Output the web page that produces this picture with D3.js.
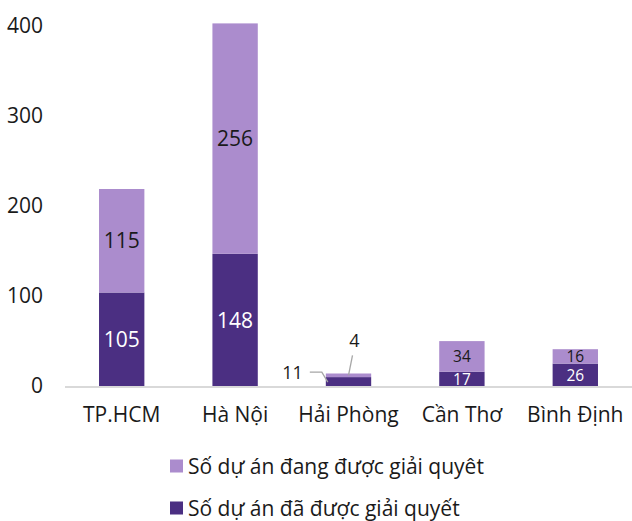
<!DOCTYPE html>
<html>
<head>
<meta charset="utf-8">
<script src="https://cdn.jsdelivr.net/npm/d3@7"></script>
<style>
  html, body { margin: 0; padding: 0; background: #fff; }
  svg text { font-family: "Open Sans", "Noto Sans", sans-serif; }
</style>
</head>
<body>
<svg id="chart" width="632" height="521"></svg>
<script>
// Provinces / cities
const categories = ["TP.HCM", "Hà Nội", "Hải Phòng", "Cần Thơ", "Bình Định"];
// Projects already resolved (bottom segment)
const resolved = [105, 148, 11, 17, 26];
// Projects being resolved (top segment)
const pending = [115, 256, 4, 34, 16];
const yTicks = [0, 100, 200, 300, 400];
const seriesNames = ["Số dự án đang được giải quyêt", "Số dự án đã được giải quyết"];

const colorDark = "#4b2f82";
const colorLight = "#ab8ccd";
const font = "'Open Sans', 'Noto Sans', sans-serif";
const fs = 21;          // axis, legend and large value labels
const fsSmall = 15.5;   // labels inside short bars
const fsCallout = 18;   // Hải Phòng callouts

const svg = d3.select("#chart");
const margin = { left: 65, right: 0 };
const width = 632;

const x = d3.scaleBand().domain(categories)
  .range([margin.left, width - margin.right])
  .paddingInner(0.6).paddingOuter(0.3);
const y = d3.scaleLinear().domain([0, 400]).range([387, 27]);

// y axis labels (no line)
const yAxis = svg.append("g").attr("transform", `translate(${margin.left},0)`)
  .call(d3.axisLeft(y).tickValues(yTicks).tickSize(0).tickPadding(22));
yAxis.select(".domain").remove();
yAxis.selectAll("text").attr("font-size", fs).attr("fill", "#1a1a1a")
  .attr("dy", "0.28em").style("font-family", font);

const rows = categories.map((c, i) => ({ c, r: resolved[i], p: pending[i] }));

// stacked bars
const g = svg.append("g");
g.selectAll("rect.dark").data(rows).join("rect")
  .attr("x", d => x(d.c)).attr("width", x.bandwidth())
  .attr("y", d => y(d.r)).attr("height", d => y(0) - y(d.r))
  .attr("fill", colorDark);
g.selectAll("rect.light").data(rows).join("rect")
  .attr("x", d => x(d.c)).attr("width", x.bandwidth())
  .attr("y", d => y(d.r + d.p)).attr("height", d => y(d.r) - y(d.r + d.p))
  .attr("fill", colorLight);

// value labels inside segments (Hải Phòng gets callouts instead)
const labelSize = d => (d.r + d.p > 100 ? fs : fsSmall);
const inside = rows.filter(d => d.r >= 15);
g.selectAll("text.vr").data(inside).join("text")
  .attr("x", d => x(d.c) + x.bandwidth() / 2)
  .attr("y", d => y(d.r / 2))
  .attr("dy", "0.36em").attr("text-anchor", "middle")
  .attr("font-size", labelSize).attr("fill", "#fff")
  .text(d => d.r);
g.selectAll("text.vp").data(inside).join("text")
  .attr("x", d => x(d.c) + x.bandwidth() / 2)
  .attr("y", d => y(d.r + d.p / 2))
  .attr("dy", "0.36em").attr("text-anchor", "middle")
  .attr("font-size", labelSize).attr("fill", "#1a1a1a")
  .text(d => d.p);

// callout labels for the thin Hải Phòng segments
const small = rows.filter(d => d.r < 15);
small.forEach(d => {
  const x0 = x(d.c), cx = x0 + x.bandwidth() / 2;
  const yr = y(d.r / 2), yp = y(d.r + d.p / 2);
  g.append("path")
    .attr("d", `M${x0 - 16},${yr - 10}H${x0 - 4}L${x0 + 2},${yr}`)
    .attr("fill", "none").attr("stroke", "#a6a6a6").attr("stroke-width", 1.3);
  g.append("text").attr("x", x0 - 23).attr("y", yr - 10).attr("dy", "0.36em")
    .attr("text-anchor", "end").attr("font-size", fsCallout).attr("fill", "#1a1a1a")
    .text(d.r);
  g.append("path")
    .attr("d", `M${cx + 4},${yp - 20}L${cx},${yp}`)
    .attr("fill", "none").attr("stroke", "#a6a6a6").attr("stroke-width", 1.3);
  g.append("text").attr("x", cx + 6).attr("y", yp - 35).attr("dy", "0.36em")
    .attr("text-anchor", "middle").attr("font-size", fsCallout).attr("fill", "#1a1a1a")
    .text(d.p);
});

// x axis baseline and category labels
const xAxis = svg.append("g").attr("transform", `translate(0,${y(0)})`)
  .call(d3.axisBottom(x).tickSize(0).tickPadding(20));
xAxis.select(".domain").attr("stroke", "#d9d9d9").attr("stroke-width", 2)
  .attr("d", `M${margin.left},0H${width}`);
xAxis.selectAll("text").attr("font-size", fs).attr("fill", "#1a1a1a")
  .style("font-family", font);

// legend
const legend = svg.append("g");
const legendItems = [
  { name: seriesNames[0], color: colorLight },
  { name: seriesNames[1], color: colorDark }
];
legend.selectAll("g").data(legendItems).join("g")
  .attr("transform", (d, i) => `translate(170,${466 + i * 42})`)
  .each(function (d) {
    const s = d3.select(this);
    s.append("rect").attr("x", 0).attr("y", -6.5).attr("width", 13).attr("height", 13)
      .attr("fill", d.color);
    s.append("text").attr("x", 18).attr("y", 0).attr("dy", "0.36em")
      .attr("font-size", fs).attr("fill", "#1a1a1a").text(d.name);
  });
</script>
</body>
</html>
